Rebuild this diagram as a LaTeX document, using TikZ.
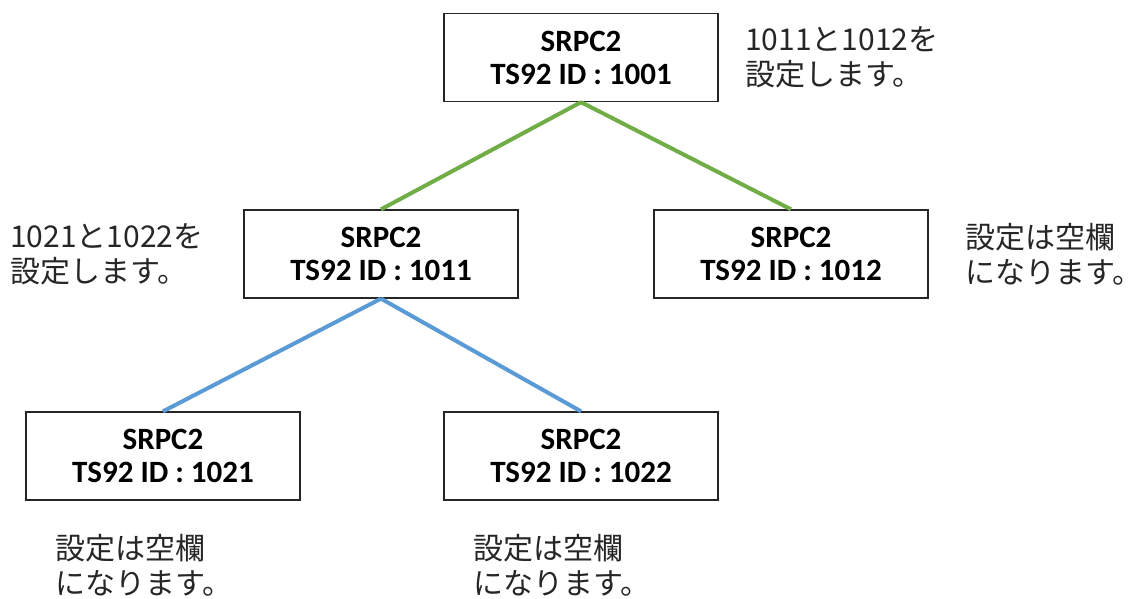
\documentclass[tikz,border=0pt]{standalone}
\usepackage{fontspec}
\setmainfont{Carlito}
\newfontfamily\jpfont{Noto Sans CJK JP}
\begin{document}
\begin{tikzpicture}[x=1pt,y=-1pt,
  box/.style={draw=black!85,line width=1.3pt,rectangle,minimum width=274pt,minimum height=88pt,inner sep=0pt,
    align=center,font=\fontsize{31}{33}\selectfont\bfseries},
  note/.style={anchor=west,inner sep=0pt,align=left,font=\jpfont\fontsize{30}{35}\selectfont,text=black!85},
  gline/.style={draw={rgb,255:red,112;green,173;blue,71},line width=4pt},
  bline/.style={draw={rgb,255:red,91;green,155;blue,213},line width=4pt}]
\useasboundingbox (0,0) rectangle (1142,599);
\node[box] (top) at (581,57.5) {SRPC2\\TS92 ID : 1001};
\node[box] (ml) at (381,254) {SRPC2\\TS92 ID : 1011};
\node[box] (mr) at (791,254) {SRPC2\\TS92 ID : 1012};
\node[box] (bl) at (163,456) {SRPC2\\TS92 ID : 1021};
\node[box] (bm) at (581,456) {SRPC2\\TS92 ID : 1022};
\draw[gline] (top.south) -- (ml.north);
\draw[gline] (top.south) -- (mr.north);
\draw[bline] (ml.south) -- (bl.north);
\draw[bline] (ml.south) -- (bm.north);
\node[note] (n1) at (745,57) {1011と1012を\\設定します。};
\node[note] (n2) at (10,254) {1021と1022を\\設定します。};
\node[note] (n3) at (965,254) {設定は空欄\\になります。};
\node[note] (n4) at (55,565) {設定は空欄\\になります。};
\node[note] (n5) at (473,565) {設定は空欄\\になります。};
\end{tikzpicture}
\end{document}
